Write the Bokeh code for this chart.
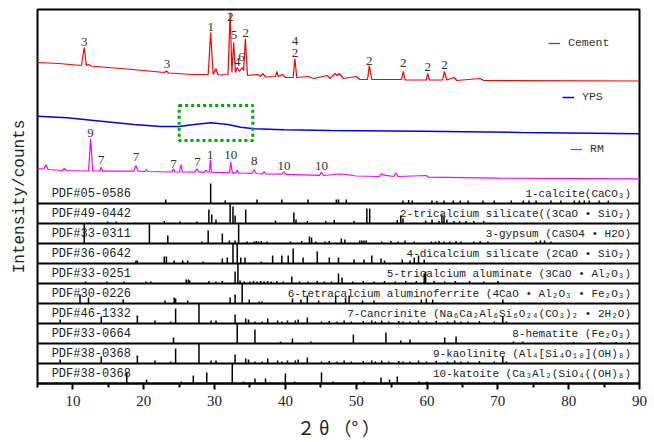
from bokeh.plotting import figure
from bokeh.models import Range1d, FixedTicker, Legend, LegendItem
from bokeh.core.properties import value
from bokeh.embed import file_html
from bokeh.resources import INLINE

# ---------------- XRD patterns (2theta, intensity a.u., already offset) ----------------
cement_2theta = [5, 8, 11.2, 11.6, 11.9, 12.2, 12.5, 15, 20, 22.9, 23.2, 23.5, 27, 29.1, 29.45, 29.8,
                 30.2, 30.5, 31.9, 32.2, 32.45, 32.7, 32.95, 33.2, 33.5, 33.9, 34.1, 34.35, 34.65,
                 36.1, 36.5, 36.8, 37.2, 38.6, 38.8, 39.0, 39.6, 40, 41.1, 41.35, 41.6, 43.2, 44,
                 45.9, 46.3, 47.0, 47.3, 47.6, 48.2, 50.0, 50.5, 51.6, 51.85, 52.2, 56.4, 56.65,
                 56.9, 59.9, 60.1, 60.35, 62.2, 62.45, 62.8, 63.85, 64.2, 67.5, 68, 90]
cement_int = [321, 320, 318, 336, 318, 319, 317.5, 316, 313, 311, 312.5, 310.5, 309, 309, 351, 309,
              315, 308.5, 309, 371, 311, 341, 311, 316, 312, 316, 313, 345, 308,
              309, 307, 310, 306.5, 307, 312, 307, 309, 306, 306, 325, 306, 307, 305,
              308, 305, 310, 308, 310, 305, 307, 304, 304, 318, 304, 304, 312,
              303.5, 303.5, 310, 303.5, 303.5, 312, 303.5, 306, 303, 305, 303, 302.5]

yps_2theta = [5, 9.2, 14, 18.6, 22.4, 25, 27.1, 29.5, 31.9, 33.7, 35.6, 39.8, 46.4, 59.2, 73.3, 90]
yps_int = [267.3, 265.7, 262.3, 259, 257, 257, 259, 260.7, 259, 256.3, 254.7, 253.7, 253, 252.3, 251, 249.7]

rm_2theta = [5, 5.9, 6.2, 6.5, 8.5, 8.8, 9.1, 12.2, 12.5, 12.8, 13.8, 14.0, 14.2, 18.6, 18.9, 19.2,
             20.2, 20.4, 20.6, 24.0, 24.2, 24.4, 25.05, 25.25, 25.45, 27.2, 27.5, 27.8, 28.6, 28.8,
             29.0, 29.25, 29.4, 29.55, 32.1, 32.3, 32.5, 33.0, 33.2, 33.4, 35.3, 35.6, 35.9, 36.8,
             37.0, 37.2, 39.5, 39.8, 40.1, 44.8, 45.1, 45.4, 47.6, 48.6, 50, 53.3, 53.5, 54.2, 55.3,
             55.6, 55.9, 59.9, 60.2, 70, 90]
rm_int = [214.7, 214.5, 218.7, 214, 213, 215, 213, 212.5, 244.7, 212.5, 212.5, 216.3, 212.3, 212.3, 218, 212.3,
          212, 214, 212, 211.5, 214.7, 211.5, 211.5, 219, 211.5, 211.3, 214.7, 211.3, 211.3, 213.5,
          211.3, 211.3, 223.7, 211.3, 210.7, 221.3, 210.7, 210.7, 213.5, 210.5, 210.2, 213.7, 210, 209.7,
          212, 209.7, 209.3, 211.7, 209.2, 208.2, 211.3, 208, 209.5, 209, 207.5, 207, 209.3, 208.2, 207,
          210.7, 207, 208, 206.3, 205.3, 204.7]

cement_peak_x = [11.6, 23.3, 29.45, 32.2, 32.75, 33.2, 33.8, 34.4, 41.35, 41.35, 51.85, 56.65, 60.1, 62.45]
cement_peak_y = [341.3, 319.7, 356.3, 366.3, 349, 321.3, 326.3, 350.3, 343, 330.7, 323, 320.7, 316.3, 318.7]
cement_peak_txt = ["3", "3", "1", "2", "5", "4", "6", "2", "4", "2", "2", "2", "2", "2"]

rm_peak_x = [12.5, 14.0, 18.9, 24.2, 27.6, 29.4, 32.3, 35.6, 39.8, 45.1]
rm_peak_y = [250.7, 223.7, 226.3, 219.7, 221.3, 229, 229, 222.3, 218, 218]
rm_peak_txt = ["9", "7", "7", "7", "7", "1", "10", "8", "10", "10"]

box_x = [25.0, 35.4]
box_y = [243, 278]

# ---------------- PDF reference cards (2theta, relative intensity %) ----------------
pdf_codes = ["PDF#05-0586", "PDF#49-0442", "PDF#33-0311", "PDF#36-0642", "PDF#33-0251",
             "PDF#30-0226", "PDF#46-1332", "PDF#33-0664", "PDF#38-0368", "PDF#38-0368"]
pdf_names = ["1-calcite(CaCO\u2083)",
             "2-tricalcium silicate((3CaO \u2022 SiO\u2082)",
             "3-gypsum (CaSO4 \u2022 H2O)",
             "4-dicalcium silicate (2CaO \u2022 SiO\u2082)",
             "5-tricalcium aluminate (3CaO \u2022 Al\u2082O\u2083)",
             "6-tetracalcium aluminoferrite (4CaO \u2022 Al\u2082O\u2083 \u2022 Fe\u2082O\u2083)",
             "7-Cancrinite (Na\u2086Ca\u2082Al\u2086Si\u2086O\u2082\u2084(CO\u2083)\u2082 \u2022 2H\u2082O)",
             "8-hematite (Fe\u2082O\u2083)",
             "9-kaolinite (Al\u2084[Si\u2084O\u2081\u2080](OH)\u2088)",
             "10-katoite (Ca\u2083Al\u2082(SiO\u2084((OH)\u2088)"]

calcite_pos = [23.1, 29.45, 31.5, 36.0, 39.5, 43.2, 47.2, 47.5, 48.6, 56.6, 57.4, 57.9, 60.7, 61.4, 62.4,
               63.7, 64.7, 65.8, 67.9, 69.5, 71.9, 73.6, 74.4, 75.4, 77.5, 78.9, 80.8, 81.5, 82.2, 82.9, 84.3, 85.6]
calcite_int = [20, 100, 15, 20, 20, 20, 20, 20, 20, 15, 18, 15, 15, 12, 15,
               15, 15, 15, 15, 15, 15, 15, 15, 15, 15, 15, 15, 15, 15, 15, 15, 15]

c3s_pos = [14.9, 16.1, 22.9, 25.1, 27.5, 29.2, 29.6, 30.2, 32.2, 32.6, 32.9, 34.4, 38.6, 41.2, 41.5,
           43.1, 45.7, 46.9, 49.7, 51.5, 51.9, 55.8, 56.3, 56.6, 59.8, 60.7, 61.7, 62.1, 62.4, 62.8,
           63.8, 64.6, 65.5, 66.6, 68.0]
c3s_int = [10, 10, 12, 10, 10, 70, 45, 20, 100, 85, 40, 70, 15, 55, 20,
           12, 12, 18, 12, 75, 75, 18, 40, 25, 15, 20, 12, 45, 35, 20,
           12, 12, 12, 12, 12]

gypsum_pos = [11.6, 20.8, 23.4, 28.2, 29.1, 31.1, 32.1, 32.9, 33.4, 34.6, 35.6, 35.9, 36.2, 36.6, 37.4,
              40.7, 42.3, 43.4, 43.7, 44.3, 45.6, 46.2, 47.9, 48.4, 50.5, 50.8, 51.1, 51.4, 53.6, 54.9,
              55.9, 56.9, 58.2, 60.6, 61.2, 61.7, 62.4, 63.2, 64.1, 64.8, 66.6, 67.5, 68.6, 75.4, 76.0,
              76.6, 77.5]
gypsum_int = [100, 100, 40, 10, 65, 50, 15, 15, 100, 10, 10, 12, 10, 12, 10,
              10, 12, 35, 30, 10, 10, 12, 25, 20, 15, 15, 15, 15, 10, 12,
              10, 15, 10, 10, 10, 12, 10, 10, 12, 10, 10, 12, 10, 10, 15,
              15, 10]

c2s_pos = [18.9, 19.1, 22.9, 23.2, 24.3, 25.5, 26.2, 28.4, 31.1, 31.8, 32.6, 33.2, 33.7, 34.3, 36.6,
           38.2, 39.5, 40.4, 41.1, 42.5, 44.5, 46.2, 47.5, 49.7, 51.1, 52.2, 53.5, 54.0, 56.5, 57.6,
           58.2, 58.8, 59.6]
c2s_int = [15, 15, 35, 35, 15, 15, 15, 10, 25, 30, 100, 100, 30, 30, 10,
           40, 40, 40, 75, 30, 60, 30, 30, 20, 20, 40, 25, 15, 20, 15,
           30, 40, 20]

c3a_pos = [11.8, 14.8, 17.2, 20.3, 21.0, 26.0, 26.3, 26.5, 29.2, 30.2, 31.1, 32.9, 33.3, 33.6, 34.2,
           35.0, 35.5, 36.0, 36.5, 37.0, 37.5, 38.0, 38.8, 39.7, 40.9, 42.0, 43.2, 44.5, 45.5, 46.5,
           47.5, 48.0, 49.5, 51.0, 52.5, 54.0, 55.5, 57.0, 58.5, 59.6, 59.8, 61.0, 62.5, 64.0, 66.0,
           68.0, 70.0]
c3a_int = [10, 10, 10, 10, 10, 20, 20, 15, 12, 10, 12, 60, 100, 15, 10,
           10, 12, 10, 12, 10, 12, 10, 12, 10, 35, 10, 10, 12, 10, 10,
           50, 30, 10, 12, 10, 12, 10, 12, 12, 50, 60, 12, 10, 12, 12,
           10, 12]

c4af_pos = [11.0, 12.2, 17.1, 23.0, 24.3, 24.5, 26.2, 32.2, 32.9, 33.9, 34.9, 36.3, 36.7, 41.0, 42.2,
            43.1, 44.7, 47.1, 48.5, 49.0, 50.9, 52.5, 59.2, 59.9, 60.8, 70.7]
c4af_int = [45, 30, 20, 15, 30, 25, 15, 30, 45, 100, 20, 10, 10, 25, 20,
            40, 15, 40, 30, 40, 15, 15, 20, 25, 20, 20]

cancrinite_pos = [8.2, 14.0, 19.1, 21.6, 23.8, 24.5, 27.8, 29.5, 30.2, 32.9, 34.4, 34.8, 35.7, 36.7, 37.5,
                  38.9, 39.5, 40.3, 41.4, 41.8, 43.1, 45.1, 46.2, 47.3, 48.3, 49.3, 51.0, 52.2, 52.7, 53.6,
                  54.6, 56.0, 56.6, 57.6, 58.8, 59.9, 61.3, 62.9, 63.9, 64.8, 65.8, 67.4, 69.5, 70.7, 71.2]
cancrinite_int = [20, 35, 40, 15, 10, 75, 100, 15, 15, 45, 25, 20, 10, 10, 25,
                  15, 10, 15, 15, 20, 30, 10, 12, 10, 15, 10, 12, 15, 10, 15,
                  10, 12, 10, 10, 15, 10, 12, 10, 15, 10, 10, 12, 10, 35, 10]

hematite_pos = [24.2, 33.2, 35.7, 39.3, 41.0, 43.6, 49.6, 54.2, 56.3, 57.6, 62.5, 64.1, 72.2, 73.5, 80.7,
                84.4, 86.7, 88.6]
hematite_int = [30, 100, 70, 10, 25, 10, 45, 55, 15, 20, 30, 35, 10, 10, 8,
                8, 8, 8]

kaolinite_pos = cancrinite_pos
kaolinite_int = cancrinite_int

katoite_pos = [17.6, 20.4, 25.3, 27.0, 28.9, 32.5, 34.1, 35.7, 37.2, 40.0, 41.3, 45.1, 46.7, 51.1, 53.5,
               54.7, 55.8, 58.9, 60.0]
katoite_int = [55, 20, 10, 40, 55, 100, 10, 25, 25, 50, 10, 55, 10, 10, 30,
               20, 35, 10, 10]

cards = [(calcite_pos, calcite_int), (c3s_pos, c3s_int), (gypsum_pos, gypsum_int), (c2s_pos, c2s_int),
         (c3a_pos, c3a_int), (c4af_pos, c4af_int), (cancrinite_pos, cancrinite_int),
         (hematite_pos, hematite_int), (kaolinite_pos, kaolinite_int), (katoite_pos, katoite_int)]

x_ticks = [10, 20, 30, 40, 50, 60, 70, 80, 90]
x_minor = [5, 15, 25, 35, 45, 55, 65, 75, 85]

PANEL_H = 20
N = len(cards)

MONO = value("Liberation Mono")
LSERIF = value("Liberation Serif")

p = figure(frame_width=602, frame_height=374, x_range=Range1d(5, 90), y_range=Range1d(0, 374),
           output_backend="svg", toolbar_location=None,
           min_border_left=37, min_border_top=9, min_border_right=8, min_border_bottom=0,
           background_fill_color="white", border_fill_color="white")
p.xgrid.visible = False
p.ygrid.visible = False
p.outline_line_color = "black"
p.outline_line_width = 2

# reference card panels
seps = [PANEL_H * i for i in range(1, N)]
p.hspan(y=seps, line_color="black", line_width=2)

for i, (pos, inten) in enumerate(cards):
    base = PANEL_H * (N - 1 - i)
    p.segment(x0=pos, y0=[base] * len(pos), x1=pos, y1=[base + v / 100 * PANEL_H for v in inten],
              line_color="black", line_width=1.5)

centers = [PANEL_H * (N - 1 - i) + PANEL_H / 2 for i in range(N)]
p.text(x=[7.0] * N, y=centers, text=pdf_codes, text_font=MONO, text_font_size="12px",
       text_align="left", text_baseline="middle", text_color="#222222")
p.text(x=[88.8] * N, y=centers, text=pdf_names, text_font=MONO, text_font_size="11px",
       text_align="right", text_baseline="middle", text_color="#222222")

# XRD patterns
r_c = p.line(cement_2theta, cement_int, line_color="#ff0000", line_width=1.2)
r_y = p.line(yps_2theta, yps_int, line_color="#0000ff", line_width=1.5)
r_r = p.line(rm_2theta, rm_int, line_color="#ff00ff", line_width=1.2)

p.text(x=cement_peak_x, y=cement_peak_y, text=cement_peak_txt, text_font=LSERIF, text_font_size="13px",
       text_align="center", text_baseline="middle", text_color="#333333")
p.text(x=rm_peak_x, y=rm_peak_y, text=rm_peak_txt, text_font=LSERIF, text_font_size="13px",
       text_align="center", text_baseline="middle", text_color="#333333")

p.quad(left=[box_x[0]], right=[box_x[1]], bottom=[box_y[0]], top=[box_y[1]], fill_color=None,
       line_color="#00aa00", line_width=3, line_dash="3 3")

for name, r, loc in [("Cement", r_c, (511, 334)), ("YPS", r_y, (525, 280)), ("RM", r_r, (533, 228))]:
    leg = Legend(items=[LegendItem(label=name, renderers=[r])], location=loc,
                 border_line_color=None, background_fill_alpha=0, padding=0, margin=0, spacing=0,
                 glyph_width=12, glyph_height=12, label_height=12, label_standoff=8,
                 label_text_font="Liberation Mono", label_text_font_size="11.5px", label_text_color="#333333")
    p.add_layout(leg)

# axes
p.xaxis.ticker = FixedTicker(ticks=x_ticks, minor_ticks=x_minor)
p.xaxis.axis_line_width = 2
p.xaxis.major_tick_line_width = 2
p.xaxis.minor_tick_line_width = 2
p.xaxis.major_tick_out = 6
p.xaxis.major_tick_in = 0
p.xaxis.minor_tick_out = 4
p.xaxis.minor_tick_in = 0
p.xaxis.major_label_standoff = 6
p.xaxis.major_label_text_font = "Liberation Serif"
p.xaxis.major_label_text_font_size = "15px"
p.xaxis.major_label_text_color = "#222222"
p.xaxis.axis_label = "\uff12 \u03b8 \uff08\u00b0 \uff09"
p.xaxis.axis_label_text_font = "Noto Sans CJK JP"
p.xaxis.axis_label_text_font_size = "18px"
p.xaxis.axis_label_text_font_style = "normal"
p.xaxis.axis_label_text_color = "#222222"
p.xaxis.axis_label_standoff = 5

p.yaxis.ticker = FixedTicker(ticks=[])
p.yaxis.axis_line_color = None
p.yaxis.major_tick_out = 0
p.yaxis.minor_tick_out = 0
p.yaxis.axis_label = "Intensity/counts"
p.yaxis.axis_label_text_font = "Liberation Mono"
p.yaxis.axis_label_text_font_size = "16px"
p.yaxis.axis_label_text_font_style = "normal"
p.yaxis.axis_label_text_color = "#222222"
p.yaxis.axis_label_standoff = 9

open("out.html", "w").write(file_html(p, INLINE))
